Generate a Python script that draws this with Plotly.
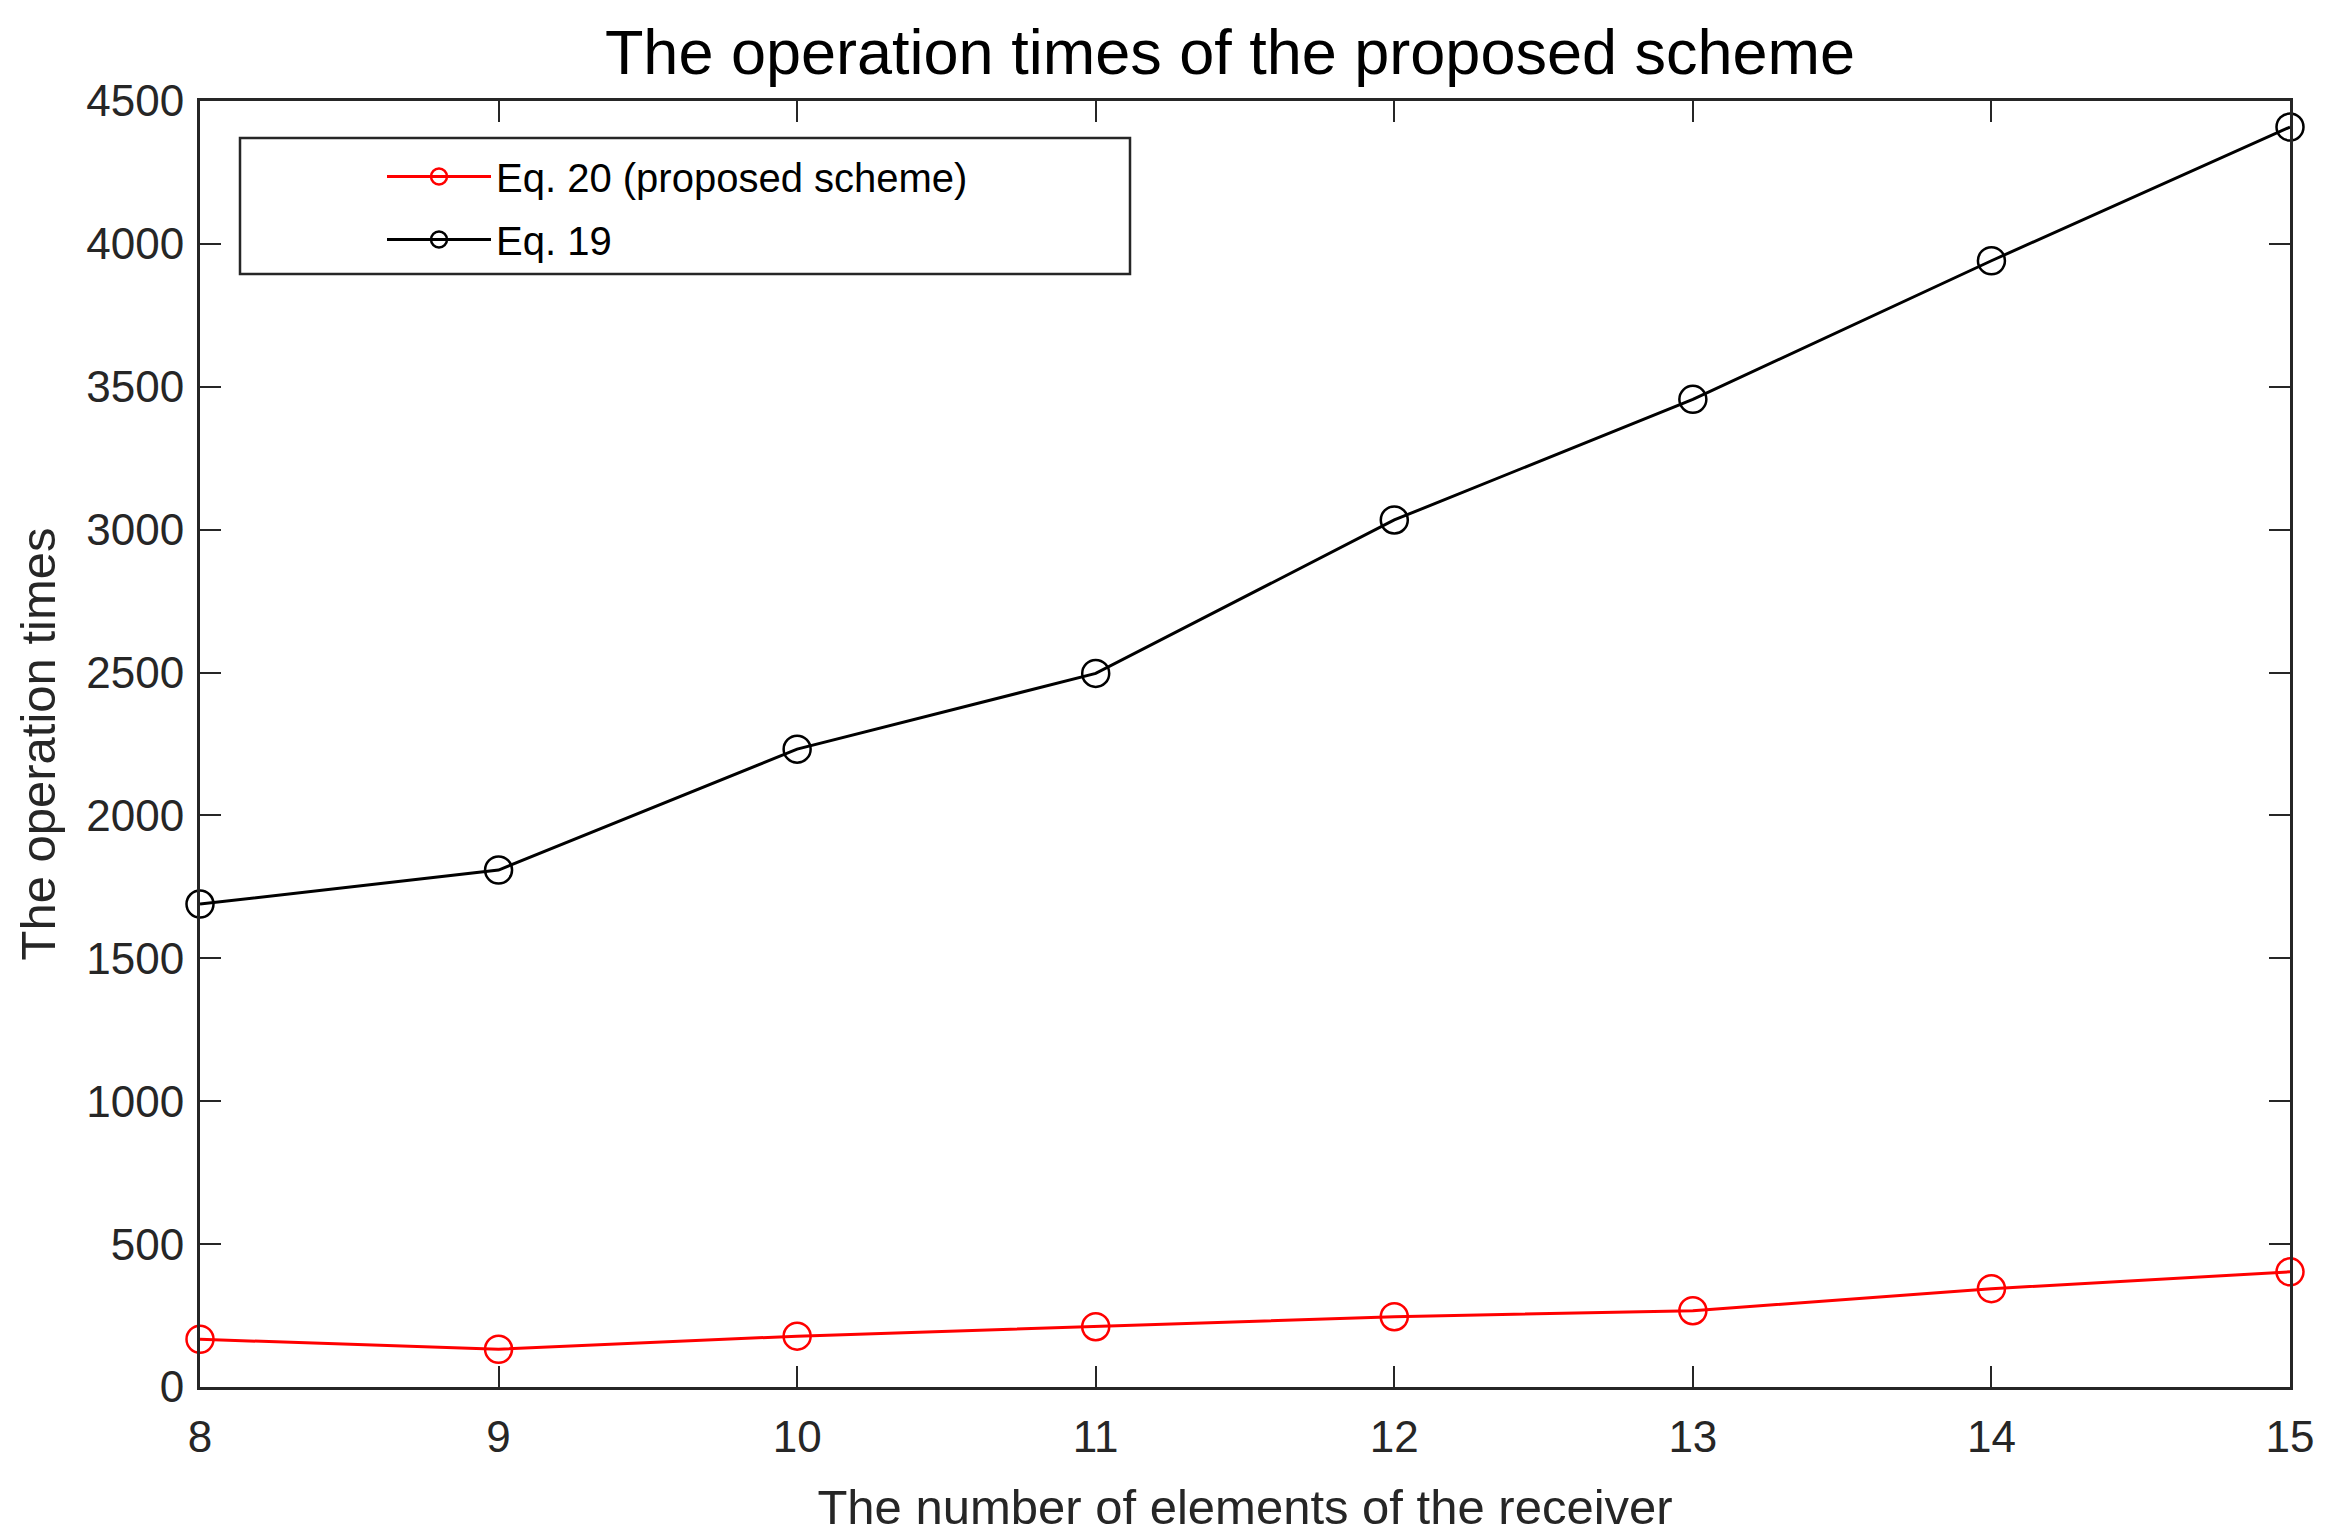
import plotly.graph_objects as go

elements = [8, 9, 10, 11, 12, 13, 14, 15]
eq20_times = [167, 132, 178, 211, 246, 267, 344, 403]
eq19_times = [1690, 1809, 2232, 2497, 3034, 3456, 3941, 4409]
eq20_name = "Eq. 20 (proposed scheme)"
eq19_name = "Eq. 19"
x_ticks = [8, 9, 10, 11, 12, 13, 14, 15]
y_ticks = [0, 500, 1000, 1500, 2000, 2500, 3000, 3500, 4000, 4500]

FONT = "Liberation Sans, Arial, Helvetica, sans-serif"
AX = "#262626"

fig = go.Figure()
fig.add_trace(go.Scatter(
    x=elements, y=eq20_times, name=eq20_name, mode="lines+markers",
    legendgroup="g20", cliponaxis=False,
    line=dict(color="#ff0000", width=3),
    marker=dict(symbol="circle-open", size=27, color="#ff0000", line=dict(width=2.5, color="#ff0000")),
))
fig.add_trace(go.Scatter(
    x=elements, y=eq19_times, name=eq19_name, mode="lines+markers",
    legendgroup="g19", cliponaxis=False,
    line=dict(color="#000000", width=3),
    marker=dict(symbol="circle-open", size=27, color="#000000", line=dict(width=2.5, color="#000000")),
))

W, H = 2327, 1537
L, R, T, B = 200, 37, 101, 150
pw, ph = W - L - R, H - T - B

def px_x(p):
    return (p - L) / pw

def px_y(p):
    return (H - B - p) / ph

axis_common = dict(
    showline=True, linecolor=AX, linewidth=3, mirror="ticks",
    ticks="inside", ticklen=21, tickwidth=2, tickcolor=AX,
    showgrid=False, zeroline=False, automargin=False,
    tickfont=dict(family=FONT, size=44, color=AX),
)

fig.update_layout(
    width=W, height=H,
    margin=dict(l=L, r=R, t=T, b=B, autoexpand=False),
    paper_bgcolor="white", plot_bgcolor="white",
    font=dict(family=FONT, color=AX),
    title=dict(
        text="The operation times of the proposed scheme",
        font=dict(family=FONT, size=63, color="#000000"),
        x=px_x(1230), xref="paper", xanchor="center",
        y=1 - 52 / H, yref="container", yanchor="middle",
    ),
    xaxis=dict(
        range=[8, 15], tickvals=x_ticks, ticktext=[str(v) for v in x_ticks],
        title=dict(text="The number of elements of the receiver",
                   font=dict(family=FONT, size=49, color=AX), standoff=30),
        ticklabelstandoff=9,
        **axis_common,
    ),
    yaxis=dict(
        range=[0, 4500], tickvals=y_ticks, ticktext=[str(v) for v in y_ticks],
        title=dict(text="The operation times",
                   font=dict(family=FONT, size=49, color=AX), standoff=16),
        ticklabelstandoff=4,
        **axis_common,
    ),
    showlegend=True,
    legend=dict(
        x=px_x(382), y=px_y(144), xanchor="left", yanchor="top",
        xref="paper", yref="paper",
        bgcolor="rgba(0,0,0,0)", borderwidth=0,
        font=dict(family=FONT, size=40, color="#000000"),
        itemwidth=104, tracegroupgap=8,
    ),
    shapes=[dict(
        type="rect", xref="paper", yref="paper",
        x0=px_x(240), x1=px_x(1130), y0=px_y(274), y1=px_y(138),
        line=dict(color=AX, width=2.5), fillcolor="rgba(0,0,0,0)", layer="above",
    )],
)

fig.write_html(
    "out.html",
    config={"displayModeBar": False},
    post_script="document.body.style.margin='0';document.body.style.overflow='hidden';",
)
